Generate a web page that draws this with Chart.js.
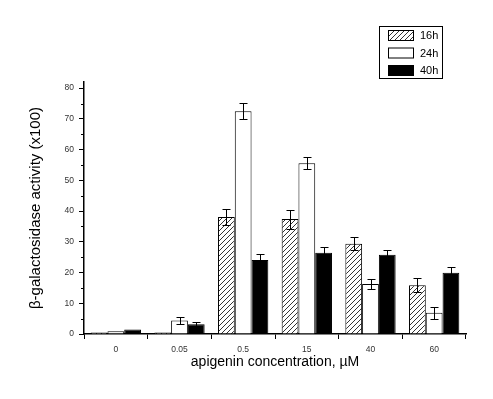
<!DOCTYPE html>
<html>
<head>
<meta charset="utf-8">
<script src="https://cdn.jsdelivr.net/npm/chart.js@4.4.1/dist/chart.umd.min.js"></script>
<style>
  html, body { margin: 0; padding: 0; background: #fff; }
</style>
</head>
<body>
<canvas id="chart" width="493" height="399"></canvas>
<script>
// data
const categories = ["0", "0.05", "0.5", "15", "40", "60"];
const seriesNames = ["16h", "24h", "40h"];
const values16 = [0.5, 0.5, 38.1, 37.4, 29.4, 15.9];
const values24 = [0.9, 4.4, 72.5, 55.6, 16.3, 6.9];
const values40 = [1.5, 3.2, 24.1, 26.4, 25.8, 19.9];
const errors16 = [0, 0, 2.5, 3.1, 2.1, 2.2];
const errors24 = [0, 1.0, 2.6, 2.0, 1.6, 1.9];
const errors40 = [0, 0.6, 2.0, 1.9, 1.5, 1.9];
const yTickValues = [0, 10, 20, 30, 40, 50, 60, 70, 80];
const yMax = 82;

const FONT = "'Liberation Sans', Arial, sans-serif";

// diagonal hatch for the 16h bars
function makeHatch() {
    const c = document.createElement("canvas");
    c.width = 5; c.height = 5;
    const g = c.getContext("2d");
    g.fillStyle = "#fff";
    g.fillRect(0, 0, 5, 5);
    g.strokeStyle = "#000";
    g.lineWidth = 0.8;
    g.beginPath();
    g.moveTo(0, 5); g.lineTo(5, 0);
    g.moveTo(-1, 1); g.lineTo(1, -1);
    g.moveTo(4, 6); g.lineTo(6, 4);
    g.stroke();
    return g.createPattern(c, "repeat");
}
const hatch = makeHatch();
const fills = [hatch, "#ffffff", "#000000"];
const errors = [errors16, errors24, errors40];

const extras = {
    id: "extras",
    afterDatasetsDraw(chart) {
        const ctx = chart.ctx;
        const y = chart.scales.y;
        ctx.save();
        ctx.strokeStyle = "#000";
        ctx.lineWidth = 1;

        // error bars
        chart.data.datasets.forEach((ds, i) => {
            const meta = chart.getDatasetMeta(i);
            meta.data.forEach((bar, j) => {
                const e = errors[i][j];
                if (!e) return;
                const v = ds.data[j];
                const top = Math.round(y.getPixelForValue(v + e)) + 0.5;
                const bot = Math.round(y.getPixelForValue(v - e)) + 0.5;
                const x = Math.round(bar.x) + 0.5;
                ctx.beginPath();
                ctx.moveTo(x, top); ctx.lineTo(x, bot);
                ctx.moveTo(x - 4, top); ctx.lineTo(x + 4, top);
                ctx.moveTo(x - 4, bot); ctx.lineTo(x + 4, bot);
                ctx.stroke();
            });
        });

        // minor y ticks
        const left = chart.chartArea.left;
        for (let v = 5; v < yMax; v += 10) {
            const py = Math.round(y.getPixelForValue(v)) + 0.5;
            ctx.beginPath();
            ctx.moveTo(left - 3, py); ctx.lineTo(left, py);
            ctx.stroke();
        }

        // legend box
        const bx = 379.5, by = 26.5, bw = 63, bh = 52;
        ctx.fillStyle = "#fff";
        ctx.fillRect(bx, by, bw, bh);
        ctx.strokeRect(bx, by, bw, bh);
        ctx.font = "11px " + FONT;
        ctx.textBaseline = "middle";
        seriesNames.forEach((name, i) => {
            const cy = 35 + i * 17.5;
            ctx.fillStyle = fills[i];
            ctx.fillRect(388, cy - 5, 25, 10);
            ctx.strokeRect(388.5, cy - 4.5, 25, 10);
            ctx.fillStyle = "#000";
            ctx.fillText(name, 420, cy + 1);
        });
        ctx.restore();
    }
};

const ctx = document.getElementById("chart");
const chart = new Chart(ctx, {
    type: "bar",
    data: {
        labels: categories,
        datasets: [
            { label: seriesNames[0], data: values16, backgroundColor: hatch, borderColor: "#000", borderWidth: 1 },
            { label: seriesNames[1], data: values24, backgroundColor: "#fff", borderColor: "#000", borderWidth: 1 },
            { label: seriesNames[2], data: values40, backgroundColor: "#000", borderColor: "#000", borderWidth: 1 }
        ]
    },
    options: {
        responsive: false,
        animation: false,
        devicePixelRatio: 1,
        layout: { padding: { top: 82, right: 27, left: 25, bottom: 26 } },
        datasets: { bar: { categoryPercentage: 0.79, barPercentage: 1.0 } },
        plugins: {
            legend: { display: false },
            tooltip: { enabled: false }
        },
        scales: {
            x: {
                grid: { display: true, offset: true, drawOnChartArea: false, tickLength: 5, color: "#000", tickColor: "#000" },
                border: { display: true, color: "#000", width: 1.5 },
                ticks: { color: "#333", font: { family: FONT, size: 8.5 }, padding: 6 },
                title: { display: true, text: "apigenin concentration, µM", color: "#000", font: { family: FONT, size: 14 }, padding: { top: 2, bottom: 2 } },
                afterFit(s) { s.height = 39; }
            },
            y: {
                min: 0,
                max: yMax,
                grid: { display: true, drawOnChartArea: false, tickLength: 5, color: "#000", tickColor: "#000" },
                border: { display: true, color: "#000", width: 1.5 },
                ticks: { color: "#333", font: { family: FONT, size: 8.5 }, padding: 5 },
                afterBuildTicks(s) { s.ticks = yTickValues.map(v => ({ value: v })); },
                title: { display: true, text: "β-galactosidase activity (x100)", color: "#000", font: { family: FONT, size: 15 }, padding: { top: 2, bottom: 4 } },
                afterFit(s) { s.width = 59; }
            }
        }
    },
    plugins: [extras]
});
</script>
</body>
</html>
